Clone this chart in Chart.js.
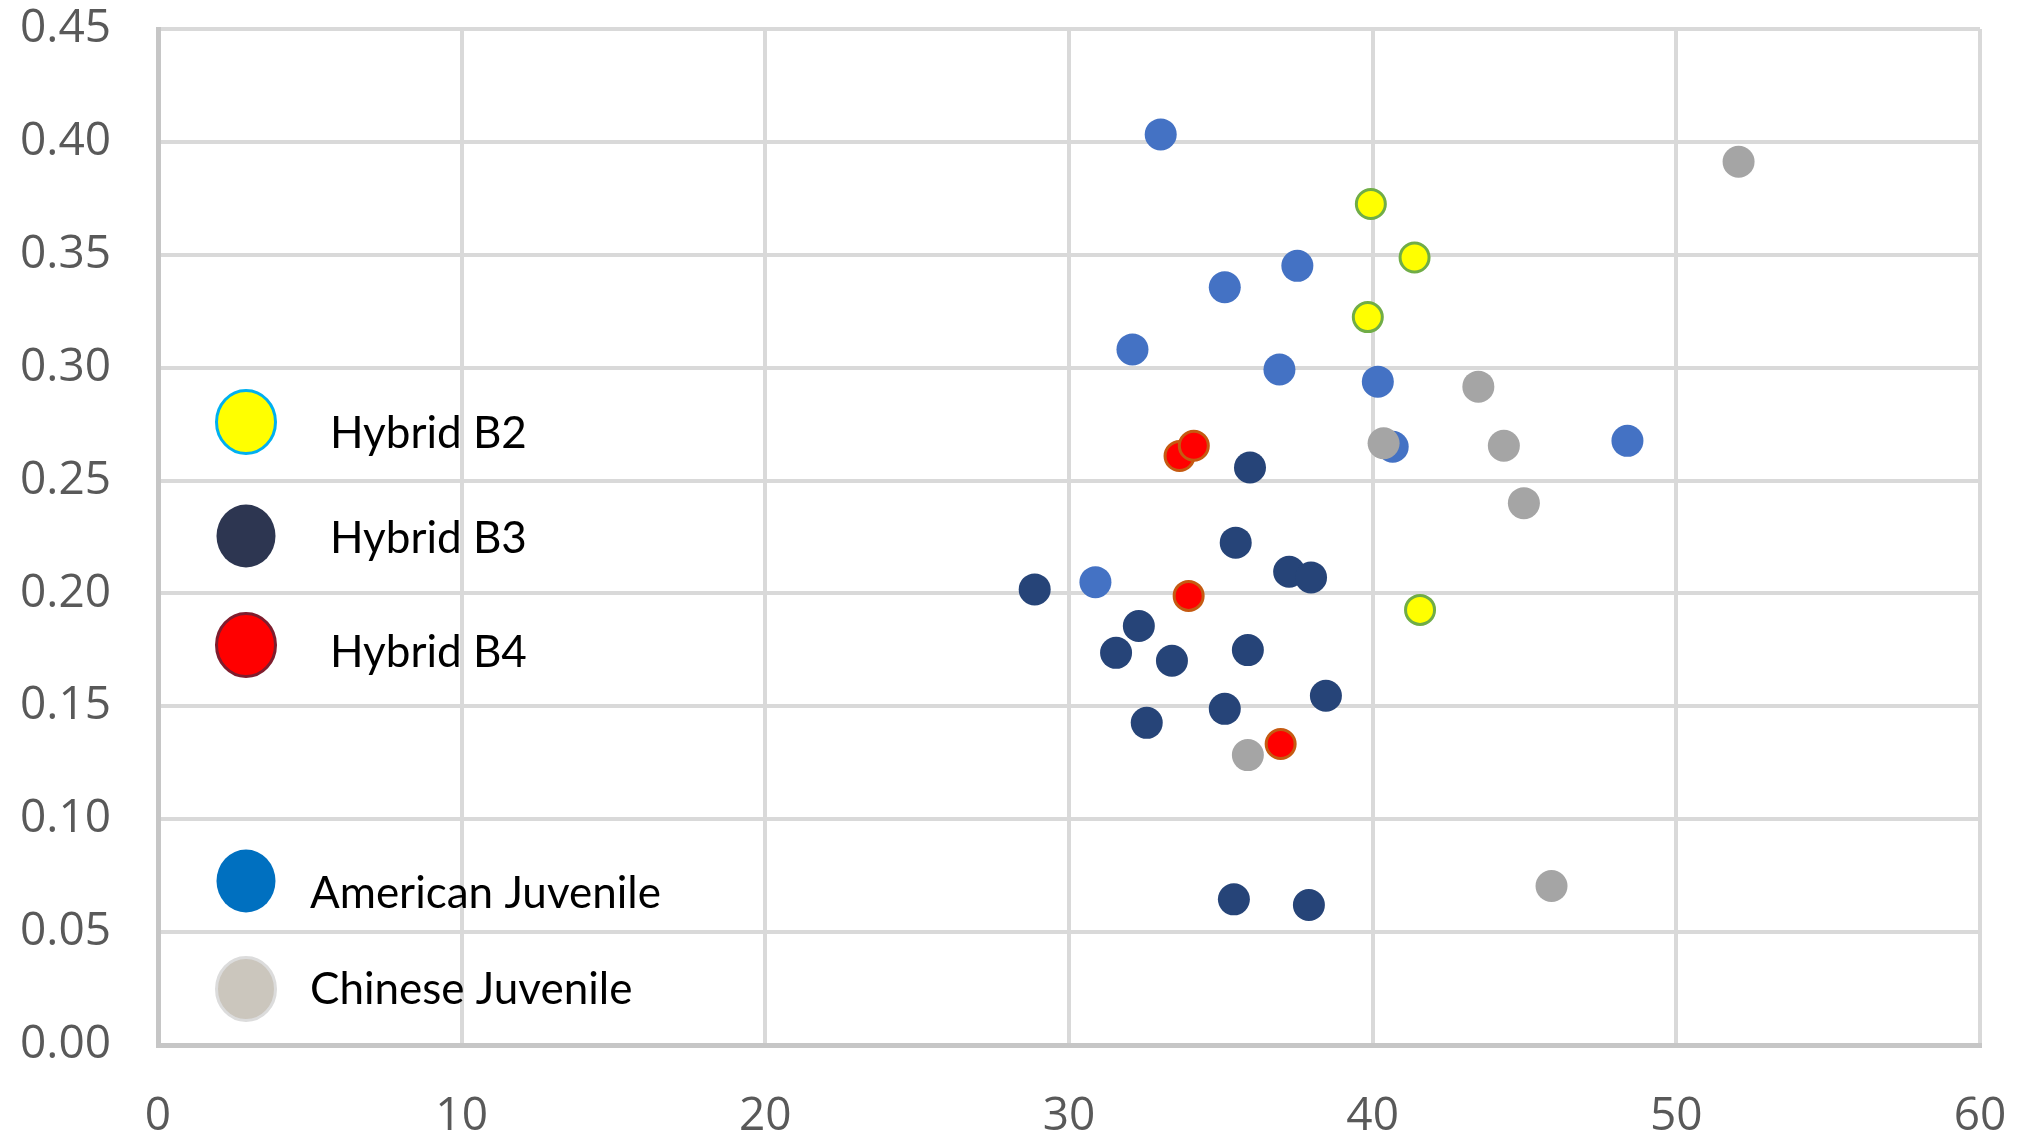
<!DOCTYPE html>
<html>
<head>
<meta charset="utf-8">
<script src="https://cdn.jsdelivr.net/npm/chart.js@4.4.1/dist/chart.umd.min.js"></script>
<style>
  html, body { margin: 0; padding: 0; background: #ffffff; }
  #wrap { width: 2028px; height: 1135px; position: relative; }
</style>
</head>
<body>
<div id="wrap"><canvas id="c" width="2028" height="1135"></canvas></div>
<script>
// ---- DATA ----
const seriesNames = ['Hybrid B2', 'Hybrid B3', 'Hybrid B4', 'American Juvenile', 'Chinese Juvenile'];

const hybridB2X = [39.94, 41.38, 39.84, 41.56];
const hybridB2Y = [0.3725, 0.3488, 0.3224, 0.1927];

const hybridB3X = [35.96, 35.49, 37.25, 37.97, 28.87, 32.30, 31.55, 33.39, 35.89, 38.46, 35.13, 32.56, 35.43, 37.90];
const hybridB3Y = [0.2558, 0.2225, 0.2096, 0.2071, 0.2018, 0.1856, 0.1737, 0.1702, 0.1749, 0.1547, 0.1489, 0.1427, 0.0645, 0.0620];

const hybridB4X = [33.64, 34.11, 33.94, 36.97];
const hybridB4Y = [0.2609, 0.2654, 0.1989, 0.1333];

const americanX = [33.02, 37.52, 35.13, 32.09, 36.93, 40.17, 40.66, 48.39, 30.87];
const americanY = [0.4033, 0.3451, 0.3356, 0.3081, 0.2992, 0.2938, 0.2650, 0.2676, 0.2050];

const chineseX = [52.05, 43.48, 40.36, 44.32, 44.98, 35.89, 45.89];
const chineseY = [0.3912, 0.2916, 0.2665, 0.2654, 0.2400, 0.1284, 0.0704];

const xTickValues = [0, 10, 20, 30, 40, 50, 60];
const xTickLabels = ['0', '10', '20', '30', '40', '50', '60'];
const yTickValues = [0, 0.05, 0.10, 0.15, 0.20, 0.25, 0.30, 0.35, 0.40, 0.45];
const yTickLabels = ['0.00', '0.05', '0.10', '0.15', '0.20', '0.25', '0.30', '0.35', '0.40', '0.45'];

// ---- BUILD ----
function pts(xs, ys) { return xs.map((x, i) => ({ x: x, y: ys[i] })); }

const legendRows = [
  { label: seriesNames[0], fill: '#ffff00', stroke: '#00b0f0', sw: 3, cy: 422, ty: 448, tx: 330 },
  { label: seriesNames[1], fill: '#2d3651', stroke: null, sw: 0, cy: 536, ty: 553, tx: 330 },
  { label: seriesNames[2], fill: '#ff0000', stroke: '#7f1d2d', sw: 3, cy: 645, ty: 667, tx: 330 },
  { label: seriesNames[3], fill: '#0070c0', stroke: null, sw: 0, cy: 881, ty: 908, tx: 310 },
  { label: seriesNames[4], fill: '#cbc6bd', stroke: '#dcdcdc', sw: 3, cy: 989, ty: 1004, tx: 310 }
];

const customLegend = {
  id: 'customLegend',
  afterDatasetsDraw(chart) {
    const ctx = chart.ctx;
    ctx.save();
    legendRows.forEach(r => {
      ctx.beginPath();
      ctx.ellipse(246, r.cy, 29.5, 31.5, 0, 0, Math.PI * 2);
      ctx.fillStyle = r.fill;
      ctx.fill();
      if (r.stroke) {
        ctx.lineWidth = r.sw;
        ctx.strokeStyle = r.stroke;
        ctx.stroke();
      }
      ctx.fillStyle = '#000000';
      ctx.font = '44px Lato';
      ctx.textAlign = 'left';
      ctx.textBaseline = 'alphabetic';
      ctx.fillText(r.label, r.tx, r.ty);
    });
    ctx.restore();
  }
};

const tickFont = { family: "'Open Sans'", size: 46, weight: 'normal' };

function noPad(s) { s.paddingTop = 0; s.paddingBottom = 0; s.paddingLeft = 0; s.paddingRight = 0; }

new Chart(document.getElementById('c'), {
  type: 'scatter',
  data: {
    datasets: [
      { label: seriesNames[0], data: pts(hybridB2X, hybridB2Y), backgroundColor: '#ffff00', borderColor: '#70ad47', borderWidth: 3, pointRadius: 14.5, pointHoverRadius: 14.5, order: 0 },
      { label: seriesNames[1], data: pts(hybridB3X, hybridB3Y), backgroundColor: '#264478', borderColor: '#264478', borderWidth: 0, pointRadius: 16, pointHoverRadius: 16, order: 0 },
      { label: seriesNames[2], data: pts(hybridB4X, hybridB4Y), backgroundColor: '#ff0000', borderColor: '#c55a11', borderWidth: 3, pointRadius: 14.5, pointHoverRadius: 14.5, order: 0 },
      { label: seriesNames[3], data: pts(americanX, americanY), backgroundColor: '#4472c4', borderColor: '#4472c4', borderWidth: 0, pointRadius: 16, pointHoverRadius: 16, order: 2 },
      { label: seriesNames[4], data: pts(chineseX, chineseY), backgroundColor: '#a5a5a5', borderColor: '#a5a5a5', borderWidth: 0, pointRadius: 16, pointHoverRadius: 16, order: 1 }
    ]
  },
  options: {
    responsive: false,
    devicePixelRatio: 1,
    animation: false,
    layout: { padding: { left: 0, right: 48, top: 29, bottom: 0 } },
    plugins: { legend: { display: false }, tooltip: { enabled: false }, title: { display: false } },
    scales: {
      x: {
        type: 'linear', position: 'bottom', min: 0, max: 60,
        afterBuildTicks: s => { s.ticks = xTickValues.map(v => ({ value: v })); },
        afterFit: s => { s.height = 90; noPad(s); },
        grid: { color: '#d9d9d9', lineWidth: 4, drawTicks: false },
        border: { color: '#c6c6c6', width: 5 },
        ticks: { color: '#595959', font: tickFont, padding: 44, maxRotation: 0, autoSkip: false,
                 callback: (v, i) => xTickLabels[i] }
      },
      y: {
        type: 'linear', min: 0, max: 0.45,
        afterBuildTicks: s => { s.ticks = yTickValues.map(v => ({ value: v })); },
        afterFit: s => { s.width = 158; noPad(s); },
        grid: { color: '#d9d9d9', lineWidth: 4, drawTicks: false },
        border: { color: '#c6c6c6', width: 5 },
        ticks: { color: '#595959', font: tickFont, padding: 47, autoSkip: false,
                 callback: (v, i) => yTickLabels[i] }
      }
    }
  },
  plugins: [customLegend]
});
</script>
</body>
</html>
